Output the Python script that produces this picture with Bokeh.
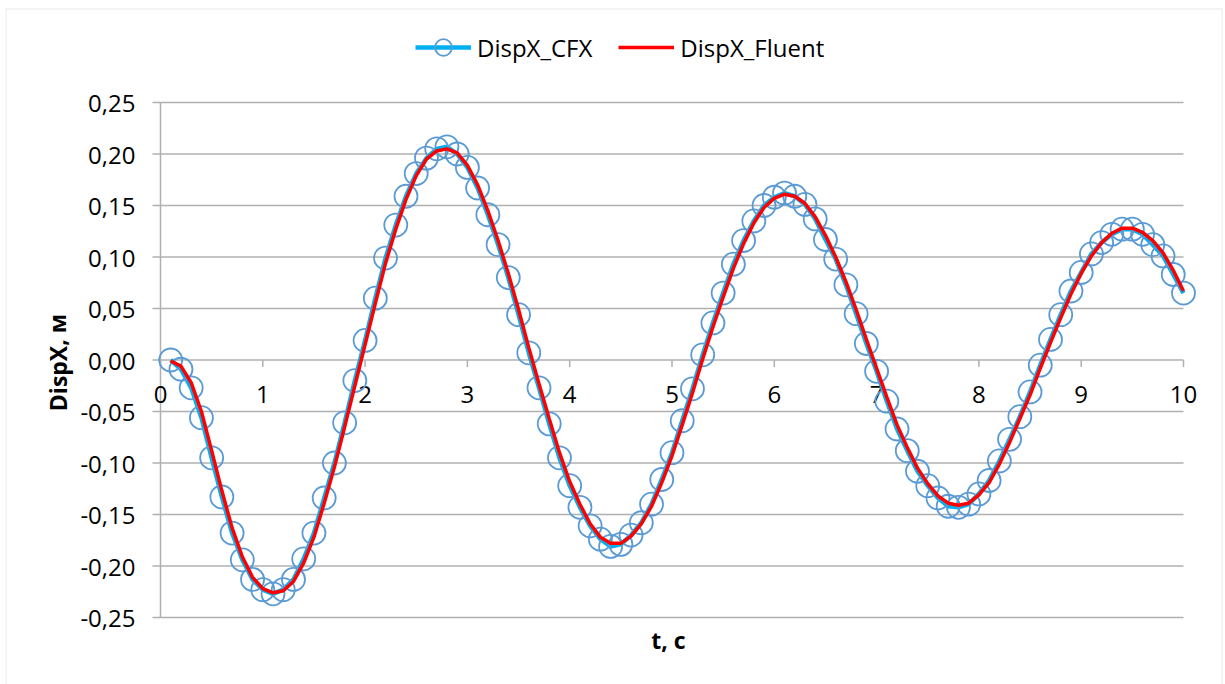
from bokeh.plotting import figure
from bokeh.models import (ColumnDataSource, Legend, LegendItem, Range1d,
                          BoxAnnotation, Label)
from bokeh.core.properties import value
from bokeh.embed import file_html
from bokeh.resources import INLINE

# ---- data ----
t = [round(0.1 * i, 1) for i in range(1, 101)]

disp_cfx = [
    0.000, -0.009, -0.027, -0.056, -0.095, -0.133, -0.168, -0.194, -0.213, -0.223,
    -0.227, -0.223, -0.213, -0.193, -0.168, -0.134, -0.100, -0.061, -0.020, 0.019,
    0.060, 0.099, 0.131, 0.159, 0.181, 0.196, 0.205, 0.207, 0.200, 0.187,
    0.167, 0.141, 0.112, 0.080, 0.044, 0.007, -0.027, -0.062, -0.095, -0.122,
    -0.143, -0.161, -0.174, -0.181, -0.179, -0.170, -0.158, -0.140, -0.116, -0.090,
    -0.059, -0.028, 0.005, 0.036, 0.065, 0.093, 0.116, 0.135, 0.150, 0.158,
    0.162, 0.159, 0.151, 0.137, 0.117, 0.098, 0.073, 0.045, 0.016, -0.011,
    -0.040, -0.067, -0.088, -0.108, -0.122, -0.134, -0.142, -0.143, -0.140, -0.130,
    -0.117, -0.098, -0.077, -0.055, -0.031, -0.005, 0.020, 0.044, 0.067, 0.085,
    0.103, 0.114, 0.122, 0.127, 0.127, 0.122, 0.112, 0.101, 0.083, 0.065,
]

disp_fluent = [
    -0.001, -0.006, -0.022, -0.050, -0.088, -0.127, -0.163, -0.191, -0.211, -0.222,
    -0.226, -0.224, -0.215, -0.197, -0.172, -0.139, -0.104, -0.065, -0.025, 0.015,
    0.055, 0.094, 0.127, 0.156, 0.179, 0.195, 0.203, 0.205, 0.201, 0.189,
    0.170, 0.145, 0.116, 0.084, 0.049, 0.012, -0.023, -0.057, -0.090, -0.118,
    -0.140, -0.159, -0.172, -0.178, -0.178, -0.171, -0.159, -0.142, -0.119, -0.093,
    -0.063, -0.032, 0.001, 0.032, 0.061, 0.089, 0.113, 0.133, 0.148, 0.157,
    0.161, 0.159, 0.152, 0.139, 0.121, 0.100, 0.076, 0.049, 0.020, -0.008,
    -0.036, -0.063, -0.085, -0.105, -0.120, -0.132, -0.139, -0.141, -0.139, -0.131,
    -0.119, -0.101, -0.080, -0.057, -0.034, -0.008, 0.017, 0.041, 0.064, 0.084,
    0.101, 0.114, 0.123, 0.128, 0.128, 0.124, 0.116, 0.104, 0.087, 0.067,
]

x_ticks = [0, 1, 2, 3, 4, 5, 6, 7, 8, 9, 10]
x_tick_labels = ["0", "1", "2", "3", "4", "5", "6", "7", "8", "9", "10"]
y_ticks = [-0.25, -0.20, -0.15, -0.10, -0.05, 0.0, 0.05, 0.10, 0.15, 0.20, 0.25]
y_tick_labels = ["-0,25", "-0,20", "-0,15", "-0,10", "-0,05", "0,00",
                 "0,05", "0,10", "0,15", "0,20", "0,25"]
x_title = "t, с"
y_title = "DispX, м"

# ---- layout (canvas pixels of the plot area) ----
W, H = 1225, 684
PL, PR, PT, PB = 160, 1183, 102, 617          # plot area box
XMIN, XMAX = 0, 10
YMIN, YMAX = -0.25, 0.25
kx = (PR - PL) / (XMAX - XMIN)
ky = (PB - PT) / (YMAX - YMIN)


def px2x(px):
    return XMIN + (px - PL) / kx


def px2y(py):
    return YMIN + (PB - py) / ky


FONT = "Open Sans"
GRID = "#b0b0b0"

p = figure(width=W, height=H, output_backend="svg", toolbar_location=None,
           x_range=Range1d(px2x(0), px2x(W)), y_range=Range1d(px2y(H), px2y(0)),
           min_border=0)
p.axis.visible = False
p.grid.visible = False
p.outline_line_color = None
p.background_fill_color = "white"
p.border_fill_color = "white"

# outer chart border
p.add_layout(BoxAnnotation(left=5.5, right=1221.5, top=8.5, bottom=700,
                           left_units="canvas", right_units="canvas",
                           top_units="canvas", bottom_units="canvas",
                           fill_alpha=0, line_color="#d0d0d0", line_width=1.5))

# horizontal gridlines, vertical axis line and its ticks / labels
ysrc = ColumnDataSource(dict(y=y_ticks, label=y_tick_labels,
                             x0=[XMIN] * len(y_ticks), x1=[XMAX] * len(y_ticks),
                             xt=[px2x(PL - 8)] * len(y_ticks)))
p.segment(x0="x0", y0="y", x1="x1", y1="y", source=ysrc,
          line_color=GRID, line_width=1.5)
p.segment(x0=[XMIN], y0=[YMIN], x1=[XMIN], y1=[YMAX], line_color=GRID, line_width=1.5)
p.segment(x0="xt", y0="y", x1="x0", y1="y", source=ysrc,
          line_color=GRID, line_width=1.5)
p.text(x="x0", y="y", text="label", source=ysrc, x_offset=-25, y_offset=1,
       text_align="right", text_baseline="middle",
       text_font=value(FONT), text_font_size="24px", text_color="black")

# horizontal axis crossing at y = 0
xsrc = ColumnDataSource(dict(x=x_ticks, y=[0] * len(x_ticks),
                             y1=[-7 / ky] * len(x_ticks), label=x_tick_labels))
p.segment(x0="x", y0="y", x1="x", y1="y1", source=xsrc,
          line_color=GRID, line_width=1.5)
p.text(x="x", y="y", text="label", source=xsrc, y_offset=34,
       text_align="center", text_baseline="middle",
       text_font=value(FONT), text_font_size="24px", text_color="black")

# axis titles
p.add_layout(Label(x=px2x(57), y=px2y(362), text=y_title, angle=1.5708,
                   text_align="center", text_baseline="middle",
                   text_font=FONT, text_font_style="bold", text_font_size="23px",
                   text_color="black"))
p.add_layout(Label(x=px2x(668), y=px2y(639), text=x_title,
                   text_align="center", text_baseline="middle",
                   text_font=FONT, text_font_style="bold", text_font_size="23px",
                   text_color="black"))

src = ColumnDataSource(dict(t=t, cfx=disp_cfx, fluent=disp_fluent))
cfx_line = p.line("t", "cfx", source=src, line_color="#00B0F0", line_width=4.5)
cfx_mark = p.scatter("t", "cfx", source=src, marker="circle", size=23,
                     fill_alpha=0, line_color="#5B9BD5", line_width=1.8)
fl_line = p.line("t", "fluent", source=src, line_color="#FF0000", line_width=3.5)

legend = Legend(items=[LegendItem(label="DispX_CFX", renderers=[cfx_line, cfx_mark]),
                       LegendItem(label="DispX_Fluent", renderers=[fl_line])],
                orientation="horizontal", location=(415, H - 68),
                padding=0, margin=0, spacing=26, glyph_width=56, glyph_height=42,
                label_height=42, label_standoff=6, label_text_font=FONT,
                label_text_font_size="24px", label_text_baseline="middle",
                label_text_color="black", background_fill_alpha=0,
                border_line_color=None)
p.add_layout(legend, "center")

open("out.html", "w").write(file_html(p, INLINE))
